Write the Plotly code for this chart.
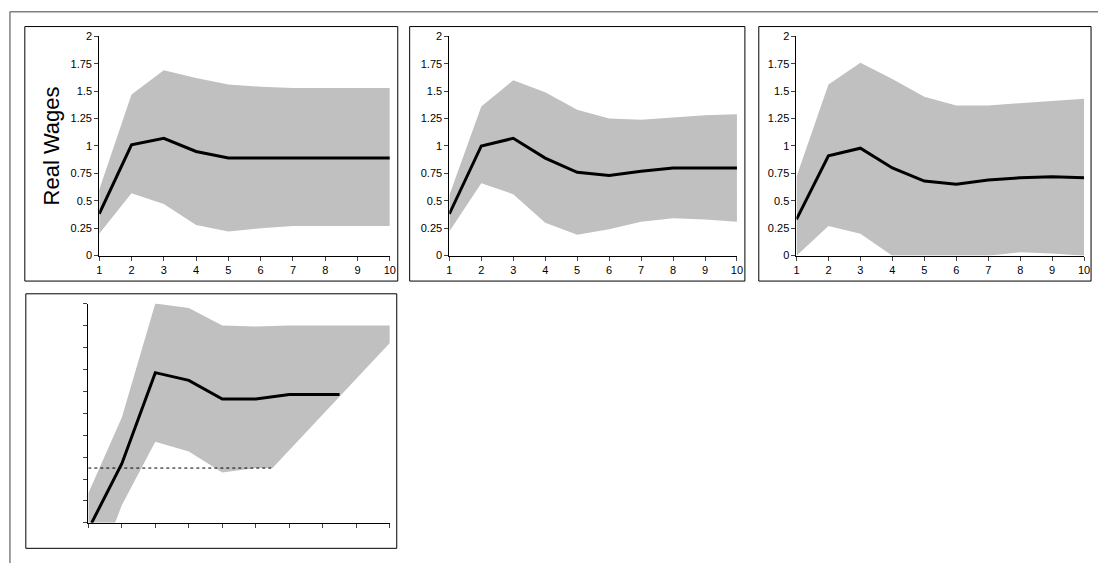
import plotly.graph_objects as go

W, H = 1104, 569
periods = list(range(1, 11))

mean_1 = [0.38, 1.01, 1.07, 0.95, 0.89, 0.89, 0.89, 0.89, 0.89, 0.89]
upper_1 = [0.60, 1.47, 1.69, 1.62, 1.56, 1.54, 1.53, 1.53, 1.53, 1.53]
lower_1 = [0.20, 0.57, 0.47, 0.28, 0.22, 0.25, 0.27, 0.27, 0.27, 0.27]

mean_2 = [0.38, 1.00, 1.07, 0.89, 0.76, 0.73, 0.77, 0.80, 0.80, 0.80]
upper_2 = [0.55, 1.36, 1.60, 1.49, 1.33, 1.25, 1.24, 1.26, 1.28, 1.29]
lower_2 = [0.22, 0.66, 0.56, 0.30, 0.19, 0.24, 0.31, 0.34, 0.33, 0.31]

mean_3 = [0.33, 0.91, 0.98, 0.80, 0.68, 0.65, 0.69, 0.71, 0.72, 0.71]
upper_3 = [0.72, 1.56, 1.76, 1.61, 1.45, 1.37, 1.37, 1.39, 1.41, 1.43]
lower_3 = [0.00, 0.27, 0.20, 0.00, 0.00, 0.00, 0.00, 0.03, 0.02, 0.00]

# fourth panel is a half-drawn (glitched) chart
mean_4_x = [1.1, 2, 3, 4, 5, 6, 7, 8.5]
mean_4 = [0.0, 0.54, 1.37, 1.30, 1.13, 1.13, 1.17, 1.17]
band_4_x = [1, 2, 3, 4, 5, 6, 7, 10, 10, 6.5, 6, 5, 4, 3, 2, 1.8, 1]
band_4 = [0.27, 0.96, 2.0, 1.96, 1.80, 1.79, 1.80, 1.80, 1.64, 0.5, 0.5, 0.46, 0.65, 0.74, 0.16, 0.0, 0.0]
dash_4_x = [1, 6.5]
dash_4 = [0.5, 0.5]

GREY = "#c0c0c0"

# pixel boxes: (plot x0, x1, y_top, y_bottom), frame (x0, y0, x1, y1)
panels = [
    ((97, 390, 31, 255), (22, 21, 398, 281), True),
    ((450, 740, 31, 255), (410, 21, 748, 281), True),
    ((800, 1090, 31, 255), (762, 21, 1097, 281), True),
    ((86, 390, 304, 528), (23, 294, 397, 554), False),
]

fig = go.Figure()
series = [(mean_1, upper_1, lower_1), (mean_2, upper_2, lower_2), (mean_3, upper_3, lower_3)]

for i, (m, up, lo) in enumerate(series):
    ax = "" if i == 0 else str(i + 1)
    fig.add_trace(go.Scatter(x=periods + periods[::-1], y=up + lo[::-1], fill="toself",
                             fillcolor=GREY, line=dict(width=0), mode="lines",
                             xaxis="x" + ax, yaxis="y" + ax, hoverinfo="skip"))
    fig.add_trace(go.Scatter(x=periods, y=m, mode="lines", line=dict(color="black", width=3),
                             xaxis="x" + ax, yaxis="y" + ax))

fig.add_trace(go.Scatter(x=band_4_x, y=band_4, fill="toself", fillcolor=GREY,
                         line=dict(width=0), mode="lines", xaxis="x4", yaxis="y4"))
fig.add_trace(go.Scatter(x=dash_4_x, y=dash_4, mode="lines",
                         line=dict(color="black", width=1, dash="3px,3px"), xaxis="x4", yaxis="y4"))
fig.add_trace(go.Scatter(x=mean_4_x, y=mean_4, mode="lines", line=dict(color="black", width=3),
                         xaxis="x4", yaxis="y4"))

# outer frame: only top and left edges fall inside the picture
shapes = [
    dict(type="line", xref="paper", yref="paper", x0=7 / W, x1=1, y0=1 - 6 / H, y1=1 - 6 / H,
         line=dict(color="#808080", width=1.5)),
    dict(type="line", xref="paper", yref="paper", x0=7 / W, x1=7 / W, y0=0, y1=1 - 6 / H,
         line=dict(color="#808080", width=1.5)),
]
layout = {}
for i, ((px0, px1, pyt, pyb), (fx0, fy0, fx1, fy1), labels) in enumerate(panels):
    n = "" if i == 0 else str(i + 1)
    layout["xaxis" + n] = dict(domain=[px0 / W, px1 / W], range=[1, 10], anchor="y" + n,
                               tickvals=periods, showticklabels=labels, ticks="outside",
                               ticklen=4, showline=True, linecolor="black", showgrid=False,
                               zeroline=False, tickfont=dict(family="Arial", size=11, color="black"))
    layout["yaxis" + n] = dict(domain=[1 - pyb / H, 1 - pyt / H], range=[0, 2], anchor="x" + n,
                               tickvals=[0, 0.25, 0.5, 0.75, 1, 1.25, 1.5, 1.75, 2] if labels
                               else [j * 0.2 for j in range(11)],
                               showticklabels=labels, ticks="outside", ticklen=4,
                               showline=True, linecolor="black", showgrid=False,
                               zeroline=False, tickfont=dict(family="Arial", size=11, color="black"))
    shapes.append(dict(type="rect", xref="paper", yref="paper", x0=fx0 / W, x1=fx1 / W,
                       y0=1 - fy1 / H, y1=1 - fy0 / H, line=dict(color="black", width=1)))

layout["yaxis"]["title"] = dict(text="Real Wages", font=dict(family="Arial", size=22, color="black"),
                                standoff=4)

fig.update_layout(autosize=True, margin=dict(l=0, r=0, t=0, b=0), showlegend=False,
                  plot_bgcolor="white", paper_bgcolor="white", shapes=shapes, **layout)
fig.write_html("out.html", config={"displayModeBar": False, "responsive": True},
               default_width="100vw", default_height="100vh",
               post_script="document.body.style.margin='0';"
                           "document.documentElement.style.overflow='hidden';")
